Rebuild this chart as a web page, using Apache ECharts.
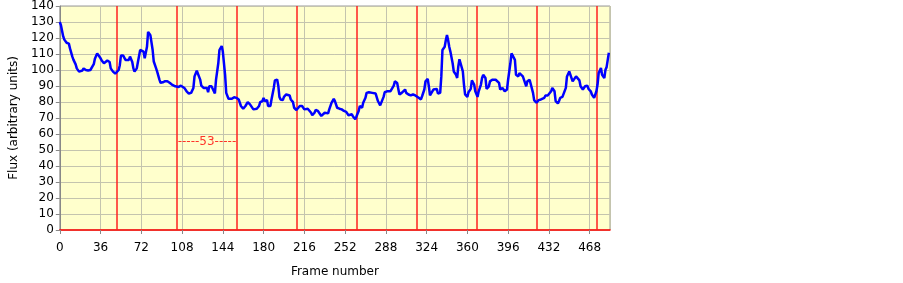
<!DOCTYPE html>
<html>
<head>
<meta charset="utf-8">
<script src="https://cdn.jsdelivr.net/npm/echarts@6/dist/echarts.min.js"></script>
<style>html,body{margin:0;padding:0;background:#fff;}#c{width:903px;height:283px;}</style>
</head>
<body>
<div id="c"></div>
<script>
const frames = [0,1,3,4,6,8,9,11,12,14,15,17,18,20,21,23,25,27,28,30,31,33,34,36,37,39,40,42,43,44,45,47,49,50,52,53,54,56,58,59,61,62,64,65,66,68,69,71,72,74,75,77,78,79,80,82,83,85,86,88,89,91,93,95,97,99,102,105,107,108,110,112,114,116,118,119,121,122,124,125,127,128,130,131,132,134,135,137,138,140,141,143,144,146,147,149,150,152,154,156,158,159,160,162,164,166,168,169,171,172,174,176,177,179,180,181,183,184,186,187,189,190,192,193,194,195,197,198,200,201,203,204,206,207,209,210,212,213,214,216,217,219,220,222,223,225,226,228,229,231,232,234,235,237,238,240,242,243,245,247,249,251,253,255,256,258,259,261,262,264,265,267,268,270,271,273,274,276,277,279,280,281,283,284,286,287,289,290,292,293,295,296,298,299,300,302,303,305,306,308,310,312,314,315,317,319,320,322,323,325,326,327,328,330,331,333,334,336,337,338,340,341,342,343,344,345,347,348,350,351,352,353,354,356,357,358,360,361,363,364,366,367,369,370,372,373,374,376,377,379,380,382,383,385,386,388,389,391,392,393,395,396,398,399,400,402,403,405,406,407,409,410,412,413,415,416,418,419,421,422,423,425,426,428,429,431,432,434,435,437,438,440,441,442,444,445,447,448,450,451,453,454,456,457,459,460,462,463,464,466,467,469,470,472,474,475,476,478,479,481,482,483,484,485];
const flux = [130,128,121,119,117,116.5,113.5,108.5,106.5,103.5,101,99,98.5,99.7,101,100,99.7,100,101,103.6,107,110.4,110,107.3,106,104.2,104.2,105.9,106.3,105,101,99,97.7,97,100,103,109,109,106.3,106,106.3,108.4,105,101,99,101,105,112.5,113,111.5,107.3,114.5,123.8,124.4,121.8,112.5,105.3,101.2,99,94,92,92.3,93,93,92,90.9,89.8,89.4,90.2,90.9,88.8,86.7,85.3,85.7,88.8,96,99.5,99.1,94,90.2,88.8,87.8,88.8,86.1,89.8,89.8,88.8,85.3,94,104.2,112.5,115,111.5,97,85.7,82,81.2,82,83,82.6,81.6,80.6,77.5,75.8,77.5,79.9,78.5,77.5,75.4,75,75.8,77.5,79.9,80.6,82.6,80.6,81.2,77.5,77.5,81.6,88.8,93.5,94,90.2,83.2,81.6,81.2,83.2,84.7,85.7,84.1,81.6,79.9,76.4,75,75.8,77.5,78.5,77.5,75.4,75,75.8,75.4,73.3,71.7,73.3,75,74.4,73.3,71.3,72.3,73.3,73.3,72.9,75.4,79.5,82,80.6,76.4,75.8,75.4,74.4,73.8,71.7,71.7,72.3,70.9,69.2,70.9,74.4,77.5,76.4,79.5,82.6,85.7,86.1,86.7,85.7,84.7,85.3,84.1,80.6,77.9,78.9,83.2,86.1,86.7,85.7,86.7,87.8,90.2,92.9,91.9,88.2,84.7,85.7,86.7,87.8,85.7,84.7,84.1,84.7,84.1,84.5,82.6,81.6,83.6,87.8,92.9,94.4,89.8,84.1,83.6,87.8,88.8,88.2,85.3,85.7,96,112.5,114.5,118.7,121.8,118.7,114.5,111.5,104.2,99.1,97,95,102.2,106.7,105.9,99.1,90.9,84.7,83.2,86.1,88.2,93.5,90.9,86.7,83.2,86.7,90.9,95,97,95,88.2,89.8,92.9,93.9,95,93.9,93.9,91.9,87.8,88.8,87.8,86.7,87.8,93.9,104.2,110.4,110.8,106.3,97,96,98.1,99.1,96,95,89.8,92.9,93.9,92.9,85.7,81.2,79.5,80.6,81.2,81.6,81.6,82.6,84.1,84.1,84.7,86.7,88.8,86.7,80.6,79.1,80.6,82.6,83.2,82.6,88.8,96,99.1,98.5,92.9,93.5,96,97,93.5,89.8,87.8,88.8,89.8,90.2,88.2,86.7,84.7,82.6,86.7,90.9,98.1,101.2,97,95,100.2,101.8,106.3,110.8];
const redLines = [50,103,156,209,262,315,368,421,474];
const noteText = '-----53-----';
const notePoint = [130, 55.2];
const xTicks = {min: 0, max: 486, interval: 36};
const yTicks = {min: 0, max: 140, interval: 10};

const chart = echarts.init(document.getElementById('c'), null, {renderer: 'canvas'});
const font = 'DejaVu Sans';
chart.setOption({
  animation: false,
  backgroundColor: '#ffffff',
  grid: {left: 57, right: 293, top: 6, bottom: 51, show: true, backgroundColor: '#FFFFCC', borderColor: '#9a9a9a', borderWidth: 1, containLabel: false},
  xAxis: {
    type: 'value', min: xTicks.min, max: xTicks.max, interval: xTicks.interval,
    name: 'Frame number', nameLocation: 'middle', nameGap: 36,
    nameTextStyle: {fontFamily: font, fontSize: 12, color: '#000'},
    axisLine: {show: true, lineStyle: {color: '#ff0000', width: 1.5}},
    axisTick: {show: true, length: 4, lineStyle: {color: '#888'}},
    axisLabel: {fontFamily: font, fontSize: 12, color: '#000', margin: 12, showMaxLabel: false},
    splitLine: {show: true, lineStyle: {color: '#c4c4ae', width: 1}}
  },
  yAxis: {
    type: 'value', min: yTicks.min, max: yTicks.max, interval: yTicks.interval,
    name: 'Flux (arbitrary units)', nameLocation: 'middle', nameGap: 36,
    nameTextStyle: {fontFamily: font, fontSize: 12, color: '#000'},
    axisLine: {show: true, lineStyle: {color: '#888', width: 1}},
    axisTick: {show: true, length: 4, lineStyle: {color: '#888'}},
    axisLabel: {fontFamily: font, fontSize: 12, color: '#000', margin: 6},
    splitLine: {show: true, lineStyle: {color: '#c4c4ae', width: 1}}
  },
  series: [
    {
      type: 'line', data: frames.map((f, i) => [f, flux[i]]),
      showSymbol: false, symbol: 'none',
      lineStyle: {color: '#0000ff', width: 2.5},
      z: 5,
      markLine: {
        silent: true, symbol: ['none', 'none'], label: {show: false},
        lineStyle: {color: '#ff2020', type: 'solid', width: 1.5},
        data: redLines.map(x => ({xAxis: x}))
      }
    },
    {
      type: 'scatter', data: [notePoint], symbolSize: 0, silent: true,
      label: {show: true, position: 'inside', formatter: noteText, color: '#ff0000', fontFamily: font, fontSize: 12}
    }
  ]
});
</script>
</body>
</html>
